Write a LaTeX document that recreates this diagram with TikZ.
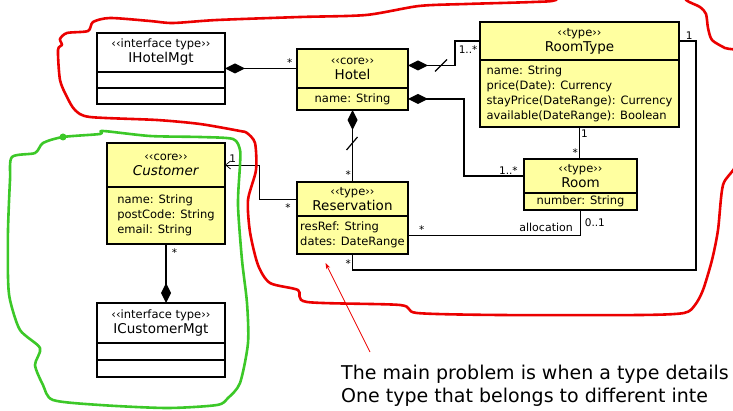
\documentclass[tikz,border=0pt]{standalone}
\usepackage{fontspec}
\setmainfont{DejaVu Sans}
\usetikzlibrary{arrows.meta}

\definecolor{umlyellow}{RGB}{255,255,160}
\definecolor{penred}{RGB}{235,0,0}
\definecolor{pengreen}{RGB}{60,200,40}

\newcommand{\stereo}[1]{{\fontsize{11.5}{12}\selectfont ‹‹#1››}}

\begin{document}
\begin{tikzpicture}[x=1pt, y=-1pt,
  box/.style={draw, line width=1.4pt, anchor=north west, inner sep=1pt, outer sep=0pt, align=center},
  head/.style={box, font=\fontsize{13.5}{15}\selectfont},
  attrs/.style={box, font=\fontsize{11.5}{15}\selectfont, align=left},
  comp/.style={line width=1.5pt, {Diamond[length=20pt,width=10pt]}-},
  assoc/.style={line width=1.2pt},
  thinassoc/.style={line width=0.7pt},
  mult/.style={font=\fontsize{10.5}{11}\selectfont, inner sep=1pt},
  blob/.style={line width=2.6pt, line join=round, line cap=round},
  pointer/.style={penred, line width=0.7pt, -{Stealth[length=6pt,width=4pt]}},
  note/.style={anchor=north west, align=left, inner sep=0pt, font=\fontsize{19}{23}\selectfont}
]
\useasboundingbox (0,0) rectangle (733,411);
\clip (0,0) rectangle (733,411);

% interfaces
\node[head, minimum width=128, minimum height=39] (ihotel) at (97,33) {\stereo{interface type}\\IHotelMgt};
\node[box, minimum width=128, minimum height=16] (ihotelattr) at (ihotel.south west) {};
\node[box, minimum width=128, minimum height=16] (ihotelops) at (ihotelattr.south west) {};

\node[head, minimum width=128, minimum height=40] (icustomer) at (97,303) {\stereo{interface type}\\ICustomerMgt};
\node[box, minimum width=128, minimum height=17] (icustomerattr) at (icustomer.south west) {};
\node[box, minimum width=128, minimum height=17] (icustomerops) at (icustomerattr.south west) {};

% core and type classes
\node[head, fill=umlyellow, minimum width=111, minimum height=39] (hotel) at (297,49) {\stereo{core}\\Hotel};
\node[attrs, fill=umlyellow, minimum width=111, minimum height=22] (hotelattr) at (hotel.south west) {name: String};

\node[head, fill=umlyellow, minimum width=199, minimum height=38] (roomtype) at (480,22) {\stereo{type}\\RoomType};
\node[attrs, fill=umlyellow, minimum width=199, minimum height=67] (roomtypeattr) at (roomtype.south west)
  {name: String\\price(Date): Currency\\stayPrice(DateRange): Currency\\available(DateRange): Boolean};

\node[head, fill=umlyellow, minimum width=118, minimum height=44] (customer) at (107,143) {\stereo{core}\\\textit{Customer}};
\node[attrs, fill=umlyellow, minimum width=118, minimum height=57] (custattr) at (customer.south west)
  {name: String\\postCode: String\\email: String};

\node[head, fill=umlyellow, minimum width=111, minimum height=34] (reservation) at (297,182) {\stereo{type}\\Reservation};
\node[attrs, fill=umlyellow, minimum width=111, minimum height=38] (resattr) at (reservation.south west)
  {resRef: String\\dates: DateRange};

\node[head, fill=umlyellow, minimum width=113, minimum height=34] (room) at (524,159) {\stereo{type}\\Room};
\node[attrs, fill=umlyellow, minimum width=113, minimum height=17] (roomattr) at (room.south west) {number: String};

% associations
\draw[comp] (ihotel.east |- hotel.west) -- node[mult, pos=1, anchor=south east, xshift=-3]{*} (hotel.west);

\draw[comp] ([yshift=3]hotel.east) -- ++(47,0) |- node[mult, pos=0.5, anchor=north west, xshift=2, yshift=-3]{1..*} (roomtype.west);
\draw[assoc] ([shift={(27,3)}]hotel.east) -- ++(12,-12);

\draw[comp] (hotelattr.east) -- ++(56,0) |- node[mult, pos=0.87, above]{1..*} (room.west);

\draw[comp] (hotelattr.south) -- node[mult, pos=0.9, left]{*} (reservation.north);
\draw[assoc] ([shift={(-6,40)}]hotelattr.south) -- ++(11,-13);

\draw[assoc] (roomtypeattr.south) -- node[mult, pos=0.2, right]{1} node[mult, pos=0.8, left]{*} (roomtypeattr.south |- room.north);

\draw[assoc] (roomtype.east) -- node[mult, pos=0.6, above]{1} ++(17,0) |- ([yshift=-16]resattr.south)
  -- node[mult, pos=0.4, left]{*} (resattr.south);

\draw[thinassoc] (resattr.east) -| node[mult, pos=0.04, above]{*}
  node[pos=0.5, anchor=south east, xshift=-4, font=\fontsize{11}{12}\selectfont]{allocation}
  node[mult, pos=0.75, anchor=west, xshift=3]{0..1} (roomattr.south);

\draw[thinassoc, -{Straight Barb[length=5pt,width=8pt]}] (reservation.west) -- node[mult, pos=0, anchor=north east, xshift=-5, yshift=-3]{*} ++(-38,0)
  |- node[mult, pos=1, anchor=south west, xshift=3, yshift=1]{1} (customer.east);

\draw[comp] (icustomer.north -| custattr.south) -- node[mult, pos=0.85, right, xshift=4]{*} (custattr.south);

% hand-drawn groupings
\draw[blob, penred] plot[smooth cycle, tension=0.45] coordinates {
  (556,0) (570,-12) (680,-12) (686,0) (700,7) (706,14) (708,28) (712,40) (725,48) (742,56)
  (748,120) (736,165) (723,185) (718,230) (712,260) (703,290) (695,305) (684,313) (640,315)
  (500,315) (417,313) (400,305) (307,302) (298,290) (270,283) (258,265) (250,232) (248,200)
  (256,170) (255,143) (247,133) (240,131) (200,124) (157,120) (90,117) (75,110) (67,97)
  (60,80) (58,50) (62,45) (60,39) (67,33) (88,31) (93,22) (110,18) (150,21) (173,23)
  (217,20) (300,17) (366,15) (419,6) (466,4) (533,2)};
\draw[blob, pengreen] plot[smooth cycle, tension=0.45] coordinates {
  (63,137) (100,134) (103,131) (150,136) (200,137) (233,139) (240,150) (240,165) (238,205)
  (242,260) (247,303) (248,343) (240,383) (228,398) (217,405) (167,408) (100,405) (53,400)
  (43,385) (35,365) (40,348) (20,330) (10,300) (8,277) (8,230) (10,180) (12,157) (35,153)
  (43,143)};
\fill[pengreen] (63,137) circle (3.5);

% remark
\node[note] (remark) at (341,365) {The main problem is when a type details\\One type that belongs to different inte};
\draw[pointer] ([shift={(29,-13)}]remark.north west) -- ([shift={(-27,9)}]resattr.south);
\end{tikzpicture}
\end{document}
